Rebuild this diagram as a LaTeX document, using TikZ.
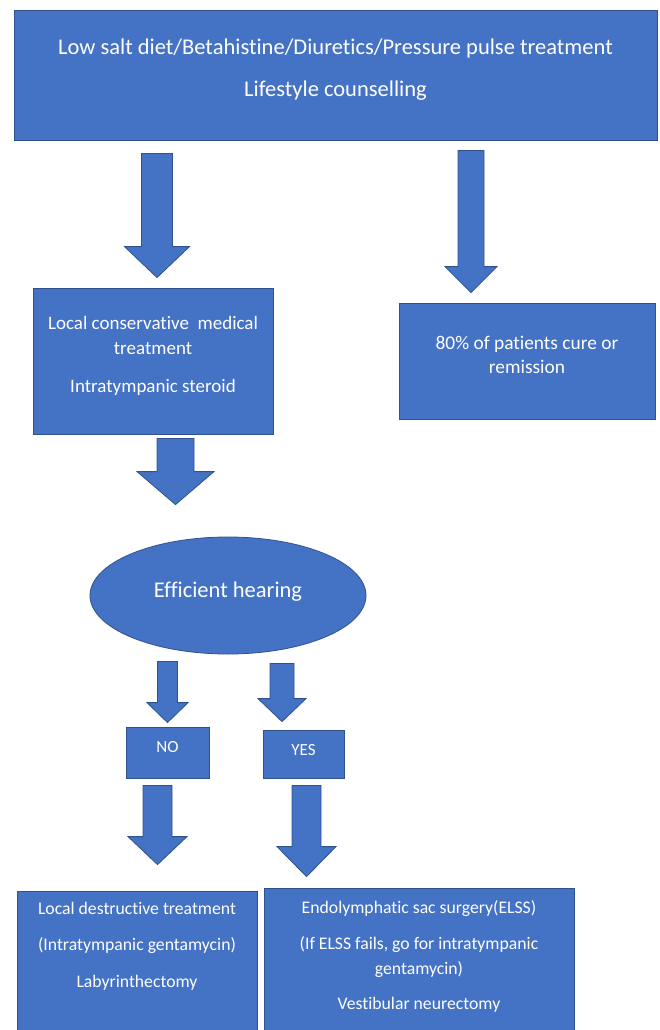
\documentclass[tikz,border=0pt]{standalone}
\usepackage{fontspec}
\setmainfont{Carlito}[Ligatures=NoCommon]
\usetikzlibrary{shapes.geometric, calc}

\definecolor{boxblue}{HTML}{4472C4}
\definecolor{boxline}{HTML}{2F528F}

% block arrow pointing down: start, tip, shaft half width, head half width, head length
\newcommand\blockarrow[5]{%
  \draw[blockarr] ($(#1 -| #2)+(-#3,0)$) -- ($(#2)+(-#3,-#5)$) -- ($(#2)+(-#4,-#5)$) -- (#2)
    -- ($(#2)+(#4,-#5)$) -- ($(#2)+(#3,-#5)$) -- ($(#1 -| #2)+(#3,0)$) -- cycle;}

\begin{document}
\begin{tikzpicture}[x=1pt, y=-1pt,
  box/.style={draw=boxline, fill=boxblue, line width=0.8pt, text=white, inner sep=0pt},
  blockarr/.style={draw=boxline, fill=boxblue, line width=0.8pt, line join=miter}]

\useasboundingbox (0,0) rectangle (659,1030);

%the boxes
\node[box] (top) at (335.5,75) {\parbox[c][130pt][t]{643pt}{\centering\fontsize{22.5}{29}\selectfont
  \rule{0pt}{45pt}Low salt diet/Betahistine/Diuretics/Pressure pulse treatment\\[13pt]
  Lifestyle counselling}};

\node[box] (lcm) at (153,361) {\parbox[c][146pt][t]{240pt}{\centering\fontsize{19}{25}\selectfont
  \rule{0pt}{41.2pt}Local conservative\ \ medical\\
  treatment\\[13pt]
  Intratympanic steroid}};

\node[box] (rem) at (527,361) {\parbox[c][116pt][t]{256pt}{\centering\fontsize{19.4}{24.5}\selectfont
  \rule{0pt}{46pt}80\% of patients cure or\\
  remission}};

\node[ellipse, draw=boxline, fill=boxblue, line width=0.8pt, text=white, inner sep=0pt,
  text height=12pt, text depth=9pt,
  minimum width=276pt, minimum height=117pt, font=\fontsize{22.5}{26}\selectfont] (eff) at (228,595.5) {Efficient hearing};

\node[box] (no) at (167.5,752.5) {\parbox[c][51pt][t]{83pt}{\centering\fontsize{17}{20}\selectfont
  \rule{0pt}{25.5pt}NO}};
\node[box] (yes) at (303.5,754) {\parbox[c][48pt][t]{81pt}{\centering\fontsize{17}{20}\selectfont
  \rule{0pt}{25pt}YES}};

\node[box] (bl) at (137,971) {\parbox[c][160pt][t]{240pt}{\centering\fontsize{17.7}{24}\selectfont
  \rule{0pt}{23.8pt}Local destructive treatment\\[12pt]
  (Intratympanic gentamycin)\\[13pt]
  Labyrinthectomy}};

\node[box] (br) at (419,968) {\parbox[c][160pt][t]{310pt}{\centering\fontsize{17.7}{25}\selectfont
  \rule{0pt}{25.6pt}Endolymphatic sac surgery(ELSS)\\[10.5pt]
  (If ELSS fails, go for intratympanic\\
  gentamycin)\\[10.5pt]
  Vestibular neurectomy}};

%arrow ends
\coordinate (a1s) at ($(top.south)+(-178.5,13)$);
\coordinate (a1e) at ($(lcm.north)+(4,-10)$);
\coordinate (a2s) at ($(top.south)+(135.5,10)$);
\coordinate (a2e) at ($(rem.north)+(-56,-10)$);
\coordinate (a3s) at ($(lcm.south)+(22.5,4)$);
\coordinate (a3e) at ($(eff.north)+(-52.5,-32)$);
\coordinate (a4s) at ($(eff.south)+(-61,7)$);
\coordinate (a4e) at ($(no.north)+(0,-4)$);
\coordinate (a5s) at ($(eff.south)+(54,9)$);
\coordinate (a5e) at ($(yes.north)+(-21.5,-8)$);
\coordinate (a6s) at ($(no.south)+(-10,7)$);
\coordinate (a6e) at ($(bl.north)+(20.5,-26)$);
\coordinate (a7s) at ($(yes.south)+(3,7)$);
\coordinate (a7e) at ($(br.north)+(-112.5,-11)$);

%the arrows
\blockarrow{a1s}{a1e}{15.5}{32.5}{31}
\blockarrow{a2s}{a2e}{13}{26}{26}
\blockarrow{a3s}{a3e}{18.5}{38.5}{33}
\blockarrow{a4s}{a4e}{10}{20.5}{20}
\blockarrow{a5s}{a5e}{12}{24}{23}
\blockarrow{a6s}{a6e}{14.5}{29.5}{28}
\blockarrow{a7s}{a7e}{14.5}{29.5}{30}

\end{tikzpicture}
\end{document}
